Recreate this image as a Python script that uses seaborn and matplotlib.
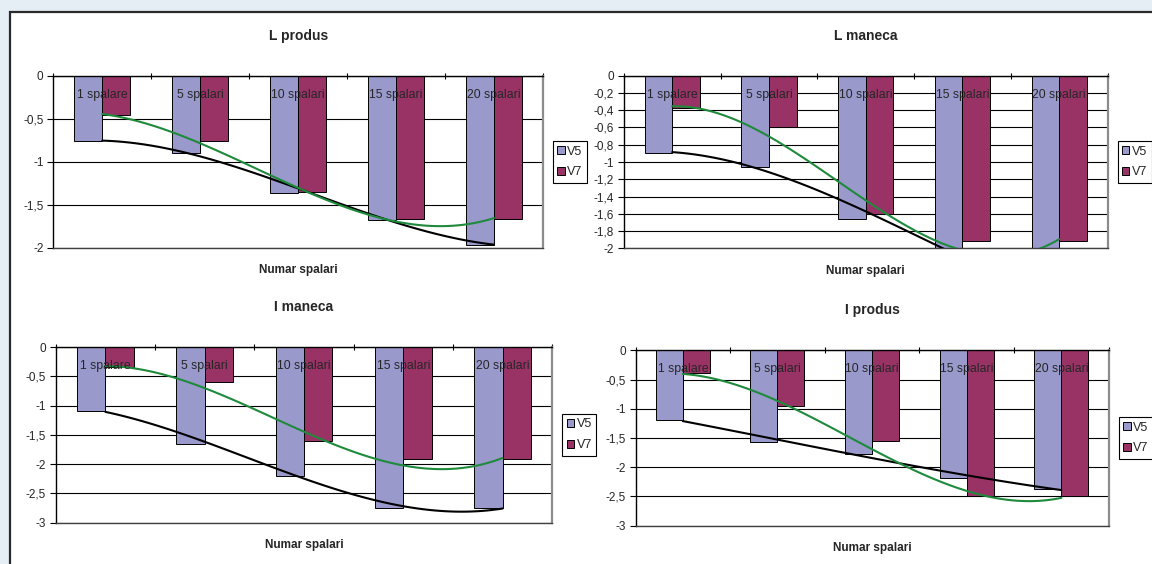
import matplotlib
matplotlib.use("Agg")
import matplotlib.pyplot as plt
from matplotlib.patches import Rectangle
from matplotlib.ticker import FuncFormatter, FixedLocator
import seaborn as sns
import pandas as pd
import numpy as np

# data
categories = ['1 spalare', '5 spalari', '10 spalari', '15 spalari', '20 spalari']
series_names = ['V5', 'V7']

l_produs_v5 = [-0.76, -0.90, -1.36, -1.67, -1.97]
l_produs_v7 = [-0.45, -0.75, -1.35, -1.66, -1.66]

l_maneca_v5 = [-0.90, -1.06, -1.66, -2.05, -2.60]
l_maneca_v7 = [-0.38, -0.60, -1.60, -1.92, -1.92]

i_maneca_v5 = [-1.10, -1.65, -2.20, -2.75, -2.75]
i_maneca_v7 = [-0.35, -0.60, -1.60, -1.92, -1.92]

i_produs_v5 = [-1.20, -1.57, -1.78, -2.18, -2.38]
i_produs_v7 = [-0.38, -0.96, -1.55, -2.50, -2.50]

titles = ['L produs', 'L maneca', 'I maneca', 'I produs']
y_mins = [-2, -2, -3, -3]
y_steps = [0.5, 0.2, 0.5, 0.5]
x_label = 'Numar spalari'

W, H = 1152, 564
# axes boxes in pixels: left, right, top, bottom
boxes = [(53.3, 543.0, 76.0, 248.0),
         (623.8, 1107.6, 75.7, 248.3),
         (55.8, 552.2, 347.0, 522.7),
         (635.5, 1108.7, 350.3, 525.7)]

bar_colors = {'V5': '#9999CC', 'V7': '#993366'}


def comma_fmt(v, pos):
    if abs(v) < 1e-9:
        return '0'
    return '{:g}'.format(round(v, 2)).replace('.', ',')


def draw_panel(fig, box, title, v5, v7, ymin, step):
    l, r, t, b = box
    w_px, h_px = r - l, b - t
    ax = fig.add_axes([l / W, 1 - b / H, w_px / W, h_px / H])

    df = pd.DataFrame({
        'cat': categories * 2,
        'val': v5 + v7,
        'serie': ['V5'] * len(v5) + ['V7'] * len(v7),
    })
    sns.barplot(data=df, x='cat', y='val', hue='serie', order=categories,
                hue_order=series_names, palette=bar_colors, width=0.571,
                saturation=1, edgecolor='black', linewidth=0.7, ax=ax,
                zorder=2)

    # polynomial trend lines (order 3) through each series
    xs = np.arange(len(categories))
    sns.regplot(x=xs, y=np.array(v5), order=3, ci=None, scatter=False,
                color='black', line_kws={'lw': 1.5, 'zorder': 4}, ax=ax)
    sns.regplot(x=xs, y=np.array(v7), order=3, ci=None, scatter=False,
                color='#1F8A3B', line_kws={'lw': 1.5, 'zorder': 4}, ax=ax)

    ax.set_xlim(-0.5, len(categories) - 0.5)
    ax.set_ylim(ymin, 0)
    ax.set_xlabel('')
    ax.set_ylabel('')

    # y axis
    ax.yaxis.set_major_locator(FixedLocator(np.arange(0, ymin - step / 2, -step)))
    ax.yaxis.set_major_formatter(FuncFormatter(comma_fmt))
    ax.tick_params(axis='y', direction='out', length=4, width=0.8,
                   color='black', pad=3, labelsize=8.5, left=True)
    ax.yaxis.grid(True, color='black', lw=0.8)
    ax.xaxis.grid(False)
    ax.set_axisbelow(True)

    # category axis at the top (value 0), ticks between groups
    ax.set_xticks([])
    ax.xaxis.set_minor_locator(FixedLocator(np.arange(-0.5, len(categories), 1.0)))
    ax.xaxis.set_ticks_position('top')
    ax.tick_params(axis='x', which='minor', direction='inout', length=5,
                   width=0.8, color='black', top=True, bottom=False)
    for i, c in enumerate(categories):
        ax.text(i, 1 - 19 / h_px, c, transform=ax.get_xaxis_transform(),
                ha='center', va='center', fontsize=8.8, zorder=5)

    for side in ['top', 'left']:
        ax.spines[side].set_color('black')
        ax.spines[side].set_linewidth(1.0)
    ax.spines['bottom'].set_color('#404040')
    ax.spines['bottom'].set_linewidth(1.0)
    ax.spines['right'].set_color('#8C8C8C')
    ax.spines['right'].set_linewidth(1.6)

    ax.text(0.5, 1 + 40 / h_px, title, transform=ax.transAxes, ha='center',
            va='center', fontsize=10, fontweight='bold')
    ax.text(0.5, -22.5 / h_px, x_label, transform=ax.transAxes, ha='center',
            va='center', fontsize=8.5, fontweight='bold')

    handles, labels = ax.get_legend_handles_labels()
    keep = [(h, lb) for h, lb in zip(handles, labels) if lb in series_names]
    leg = ax.legend([k[0] for k in keep], [k[1] for k in keep],
                    loc='center left', bbox_to_anchor=(1 + 10 / w_px, 0.5),
                    frameon=True, fancybox=False, framealpha=1,
                    edgecolor='black', fontsize=9, handlelength=0.6,
                    handleheight=0.6, handletextpad=0.2, borderpad=0.35,
                    labelspacing=0.7, borderaxespad=0)
    leg.get_frame().set_linewidth(0.8)
    return ax


sns.set_style('white')
plt.rcParams['font.family'] = ['Liberation Sans', 'DejaVu Sans']

fig = plt.figure(figsize=(W / 100, H / 100), dpi=100)
fig.patch.set_facecolor('#E5EDF5')
fig.patches.append(Rectangle((9.5 / W, -0.05), 1.2, (H - 11.5) / H + 0.05,
                             transform=fig.transFigure, facecolor='white',
                             edgecolor='#2A2A2A', lw=1.6, zorder=-1))

panel_data = [(l_produs_v5, l_produs_v7), (l_maneca_v5, l_maneca_v7),
              (i_maneca_v5, i_maneca_v7), (i_produs_v5, i_produs_v7)]

for box, title, (v5, v7), ymin, step in zip(boxes, titles, panel_data, y_mins, y_steps):
    draw_panel(fig, box, title, v5, v7, ymin, step)

fig.savefig('out.png', dpi=100, facecolor=fig.get_facecolor())
